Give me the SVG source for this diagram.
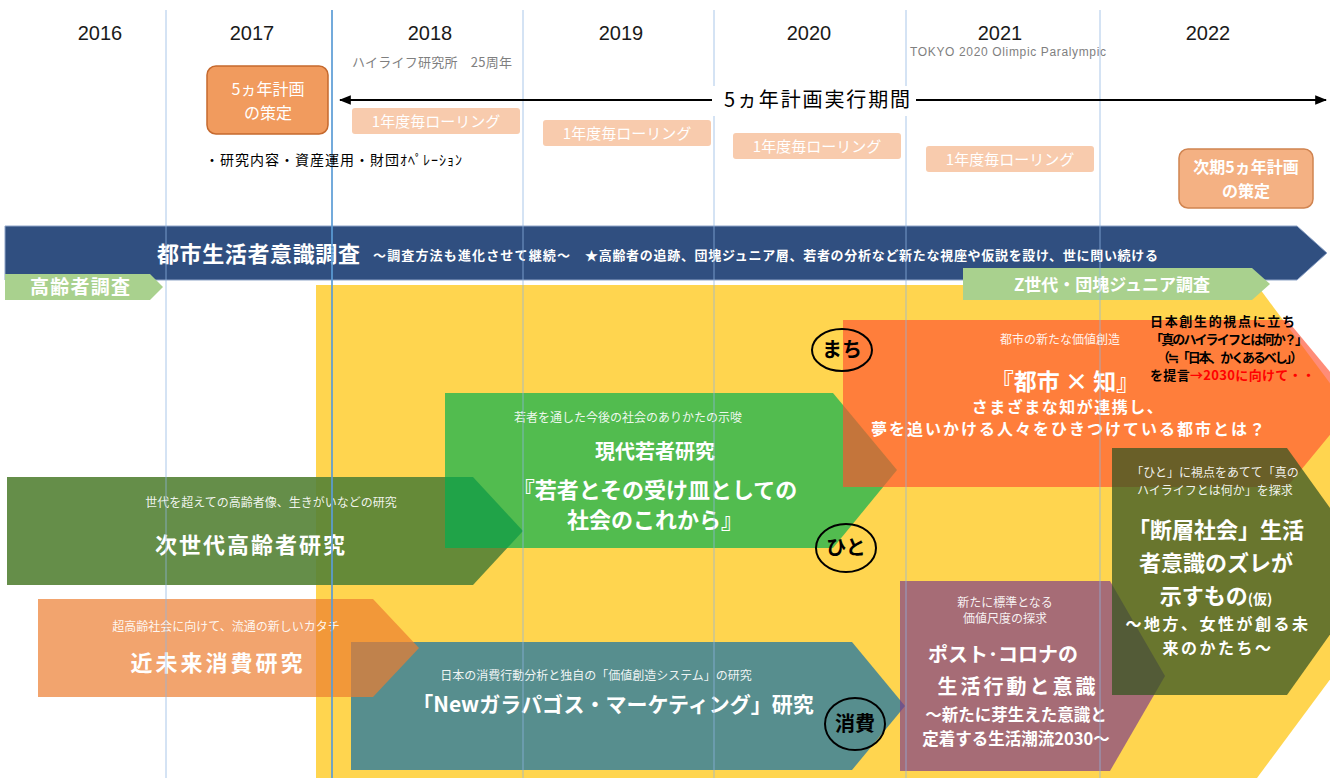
<svg xmlns="http://www.w3.org/2000/svg" width="1335" height="778" viewBox="0 0 1335 778">
<defs>
<style>
.jp{font-family:"Noto Sans CJK JP","Noto Sans",sans-serif;}
.yr{font-family:"Liberation Sans",Arial,sans-serif;font-size:20px;fill:#1a1a1a;text-anchor:middle;}
.w{fill:#ffffff;}
.c{text-anchor:middle;}
.b{font-weight:bold;}
.desc{font-size:12px;fill:#ffffff;fill-opacity:0.92;text-anchor:middle;}
.grid{stroke:#8DB4E2;stroke-width:1;stroke-opacity:0.75;}
.roll{fill:#F8CBAD;}
.rollt{font-size:15px;fill:#ffffff;text-anchor:middle;}
.circ{fill:none;stroke:#000;stroke-width:2;}
.ct{font-size:20px;font-weight:bold;fill:#000;text-anchor:middle;}
.prop{font-size:13px;font-weight:bold;fill:#000;}
</style>
<marker id="ah" viewBox="0 0 10 10" refX="9" refY="5" markerWidth="6" markerHeight="6" orient="auto-start-reverse">
<path d="M0,1 L10,5 L0,9 z" fill="#000"/>
</marker>
<clipPath id="clip"><rect x="0" y="0" width="1330" height="778"/></clipPath>
</defs>
<rect x="0" y="0" width="1335" height="778" fill="#ffffff"/>

<!-- header texts -->
<g id="years">
<text class="yr" x="100" y="40">2016</text>
<text class="yr" x="252" y="40">2017</text>
<text class="yr" x="430" y="40">2018</text>
<text class="yr" x="621" y="40">2019</text>
<text class="yr" x="809" y="40">2020</text>
<text class="yr" x="1000" y="40">2021</text>
<text class="yr" x="1208" y="40">2022</text>
<text class="jp" x="352" y="67" font-size="13" fill="#7F7F7F" textLength="160">ハイライフ研究所　25周年</text>
<text x="910" y="56" font-family="Liberation Sans,Arial,sans-serif" font-size="12" fill="#7F7F7F" textLength="196">TOKYO 2020 Olimpic Paralympic</text>
</g>

<g clip-path="url(#clip)">
<!-- big yellow background -->
<polygon id="yellow-bg" points="316,285 1257,285 1440,531 1257,778 316,778" fill="#FFD54F"/>

<!-- navy arrow -->
<g id="n-survey">
<polygon points="5,226 1297,226 1327,253 1297,280 5,280" fill="#304F80" stroke="#8FA5C8" stroke-width="1"/>
<text class="jp w b" x="157" y="262" font-size="22" textLength="203">都市生活者意識調査</text>
<text class="jp w b" x="373" y="260" font-size="13" textLength="197">～調査方法も進化させて継続～</text>
<text class="jp w b" x="585" y="260" font-size="13" textLength="573">★高齢者の追跡、団塊ジュニア層、若者の分析など新たな視座や仮説を設け、世に問い続ける</text>
</g>

<g id="n-elder-survey">
<polygon points="5,274 150,274 163,287 150,300 5,300" fill="#A9D18E"/>
<text class="jp w b" x="30" y="294" font-size="19" textLength="100">高齢者調査</text>
</g>

<g id="n-z-survey">
<polygon points="963,268 1252,268 1270,284 1252,300 963,300" fill="#A9D18E"/>
<text class="jp w b c" x="1112" y="291" font-size="17">Z世代・団塊ジュニア調査</text>
</g>

<!-- 次世代高齢者研究 -->
<g id="n-nextgen">
<polygon points="7,477 473,477 523,531 473,585 7,585" fill="#548235" fill-opacity="0.9"/>
<text class="jp desc" x="271" y="507">世代を超えての高齢者像、生きがいなどの研究</text>
<text class="jp w b c" x="251" y="553" font-size="22" letter-spacing="2">次世代高齢者研究</text>
</g>

<!-- 現代若者研究 -->
<g id="n-youth">
<polygon points="445,393 833,393 897,470 833,548 445,548" fill="#00B050" fill-opacity="0.68"/>
<text class="jp desc" x="628" y="422">若者を通した今後の社会のありかたの示唆</text>
<text class="jp w b c" x="655" y="459" font-size="20">現代若者研究</text>
<text class="jp w b c" x="655" y="498" font-size="22">『若者とその受け皿としての</text>
<text class="jp w b c" x="655" y="528" font-size="22">社会のこれから』</text>
</g>

<!-- 都市×知 -->
<g id="n-city">
<polygon points="843,320 1287,320 1356,403 1287,487 843,487" fill="#FF5030" fill-opacity="0.66"/>
<text class="jp desc" x="1060" y="344" font-size="12.5">都市の新たな価値創造</text>
<text class="jp w b c" x="1065" y="390" font-size="23">『都市 × 知』</text>
<text class="jp w b c" x="1068" y="413" font-size="16" letter-spacing="1.5">さまざまな知が連携し、</text>
<text class="jp w b c" x="1069" y="435" font-size="16" letter-spacing="2">夢を追いかける人々をひきつけている都市とは？</text>
</g>

<!-- Newガラパゴス -->
<g id="n-galapagos">
<polygon points="351,642 852,642 905,706 852,770 351,770" fill="#287AA0" fill-opacity="0.78"/>
<text class="jp desc" x="596" y="680">日本の消費行動分析と独自の「価値創造システム」の研究</text>
<text class="jp w b c" x="613" y="712" font-size="21">「Newガラパゴス・マーケティング」研究</text>
</g>

<!-- 近未来消費研究 -->
<g id="n-nearfuture">
<polygon points="38,599 373,599 419,648 373,697 38,697" fill="#ED7D31" fill-opacity="0.7"/>
<text class="jp desc" x="226" y="631" font-size="12.5">超高齢社会に向けて、流通の新しいカタチ</text>
<text class="jp w b c" x="218" y="671" font-size="22" letter-spacing="3">近未来消費研究</text>
</g>

<!-- ポスト・コロナ -->
<g id="n-postcorona">
<polygon points="900,581 1110,581 1165,676 1110,771 900,771" fill="#7C3989" fill-opacity="0.68"/>
<text class="jp desc" x="1005" y="607">新たに標準となる</text>
<text class="jp desc" x="1005" y="623">価値尺度の探求</text>
<text class="jp w b c" x="1003" y="662" font-size="20">ポスト･コロナの</text>
<text class="jp w b c" x="1018" y="694" font-size="20" letter-spacing="3">生活行動と意識</text>
<text class="jp w b c" x="1016" y="721" font-size="16.5">～新たに芽生えた意識と</text>
<text class="jp w b c" x="1016" y="745" font-size="16.5">定着する生活潮流2030～</text>
</g>

<!-- 断層社会 -->
<g id="n-danso">
<polygon points="1112,448 1287,448 1375,571 1287,695 1112,695" fill="#375623" fill-opacity="0.75"/>
<text class="jp desc" x="1215" y="477">「ひと」に視点をあてて「真の</text>
<text class="jp desc" x="1215" y="495">ハイライフとは何か」を探求</text>
<text class="jp w b c" x="1216" y="538" font-size="22">「断層社会」生活</text>
<text class="jp w b c" x="1216" y="571" font-size="22">者意識のズレが</text>
<text class="jp w b c" x="1216" y="604" font-size="22">示すもの<tspan font-size="14">(仮)</tspan></text>
<text class="jp w b c" x="1218" y="630" font-size="16" letter-spacing="2.5">～地方、女性が創る未</text>
<text class="jp w b c" x="1218" y="654" font-size="16" letter-spacing="2.5">来のかたち～</text>
</g>
</g>

<!-- grid lines -->
<g id="grid">
<line class="grid" x1="166" y1="10" x2="166" y2="778"/>
<line x1="332" y1="10" x2="332" y2="778" stroke="#5B9BD5" stroke-width="2" stroke-opacity="0.85"/>
<line class="grid" x1="523" y1="10" x2="523" y2="778"/>
<line class="grid" x1="714" y1="10" x2="714" y2="778"/>
<line class="grid" x1="906" y1="10" x2="906" y2="778"/>
<line class="grid" x1="1100" y1="10" x2="1100" y2="778"/>
</g>

<!-- plan boxes -->
<g id="n-plan">
<rect x="207" y="66" width="121" height="68" rx="9" fill="#F19B5E" stroke="#C5692E" stroke-width="1.5"/>
<text class="jp w c" x="268" y="95" font-size="16">5ヵ年計画</text>
<text class="jp w c" x="268" y="119" font-size="16">の策定</text>
</g>
<g id="n-plan-note">
<text class="jp" x="205" y="165" font-size="14" fill="#000" textLength="257">・研究内容・資産運用・財団ｵﾍﾟﾚｰｼｮﾝ</text>
</g>
<g id="n-nextplan">
<rect x="1179" y="149" width="134" height="59" rx="9" fill="#F4B183" stroke="#D08450" stroke-width="1.5"/>
<text class="jp w b c" x="1246" y="173" font-size="16">次期5ヵ年計画</text>
<text class="jp w b c" x="1246" y="197" font-size="16">の策定</text>
</g>
<g id="n-roll1"><rect class="roll" x="352" y="108" width="168" height="26" rx="3"/><text class="jp rollt" x="436" y="127">1年度毎ローリング</text></g>
<g id="n-roll2"><rect class="roll" x="543" y="120" width="168" height="26" rx="3"/><text class="jp rollt" x="627" y="139">1年度毎ローリング</text></g>
<g id="n-roll3"><rect class="roll" x="733" y="133" width="168" height="26" rx="3"/><text class="jp rollt" x="817" y="152">1年度毎ローリング</text></g>
<g id="n-roll4"><rect class="roll" x="926" y="146" width="168" height="26" rx="3"/><text class="jp rollt" x="1010" y="165">1年度毎ローリング</text></g>

<!-- connectors: execution period arrow -->
<g id="connectors">
<line x1="340" y1="100" x2="1326" y2="100" stroke="#000" stroke-width="2" marker-start="url(#ah)" marker-end="url(#ah)"/>
</g>
<g id="n-period">
<rect x="712" y="86" width="204" height="30" fill="#ffffff"/>
<text class="jp c" x="817" y="107" font-size="20" fill="#000" textLength="186">5ヵ年計画実行期間</text>
</g>

<!-- circle labels -->
<g id="n-machi"><ellipse class="circ" cx="842" cy="350" rx="30" ry="21"/><text class="jp ct" x="842" y="357">まち</text></g>
<g id="n-hito"><ellipse class="circ" cx="846" cy="548" rx="30" ry="24"/><text class="jp ct" x="846" y="555">ひと</text></g>
<g id="n-shohi"><ellipse class="circ" cx="855" cy="724" rx="30" ry="26"/><text class="jp ct" x="855" y="731">消費</text></g>

<!-- proposal note -->
<g id="n-proposal">
<text class="jp prop" x="1150" y="326" textLength="145">日本創生的視点に立ち</text>
<text class="jp prop" x="1150" y="344" textLength="158">「真のハイライフとは何か？」</text>
<text class="jp prop" x="1157" y="362" textLength="146">（≒「日本、かくあるべし」）</text>
<text class="jp prop" x="1150" y="380" textLength="165">を提言<tspan fill="#FF0000">→2030に向けて・・</tspan></text>
</g>
</svg>
